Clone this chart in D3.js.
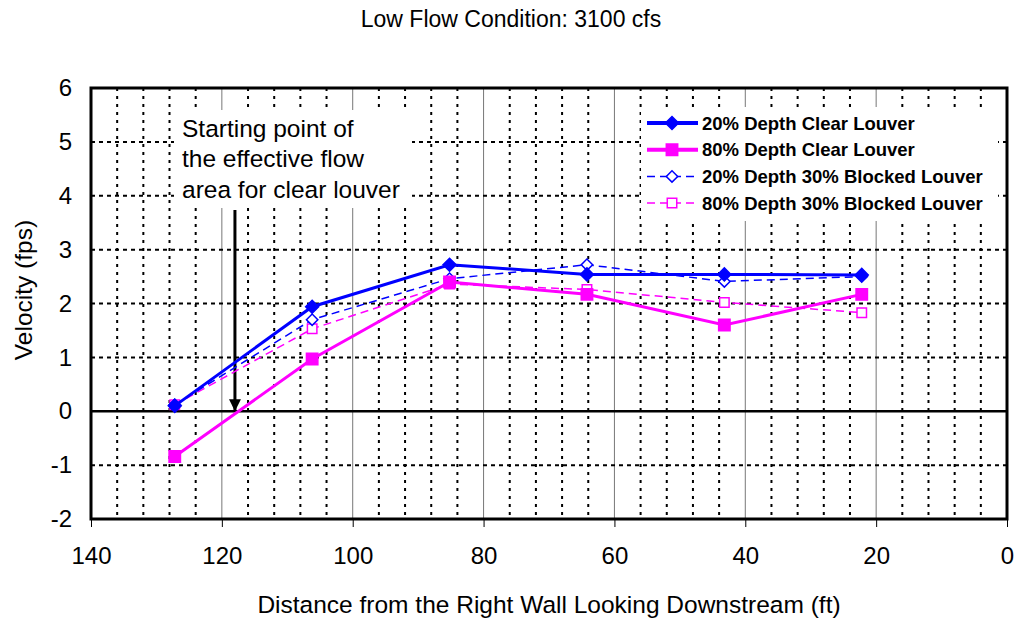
<!DOCTYPE html>
<meta charset="utf-8">
<script src="https://d3js.org/d3.v7.min.js"></script>
<style>
  body { margin: 0; background: #fff; }
  text { font-family: Arial, "Liberation Sans", sans-serif; }
</style>
<svg id="chart" width="1018" height="621"></svg>
<script>
// distance from right wall (ft)
var distance = [127.2, 106.2, 85.2, 64.2, 43.2, 22.2];
var clear20 = [0.10, 1.94, 2.72, 2.54, 2.54, 2.53];
var clear80 = [-0.84, 0.97, 2.40, 2.17, 1.60, 2.17];
var blocked20 = [0.12, 1.70, 2.46, 2.72, 2.41, 2.50];
var blocked80 = [0.12, 1.53, 2.36, 2.26, 2.02, 1.83];
var xTicks = [140, 120, 100, 80, 60, 40, 20, 0];
var yTicks = [-2, -1, 0, 1, 2, 3, 4, 5, 6];
var seriesNames = ["20% Depth Clear Louver", "80% Depth Clear Louver",
                   "20% Depth 30% Blocked Louver", "80% Depth 30% Blocked Louver"];
var annotation = ["Starting point of", "the effective flow", "area for clear louver"];
var startPoint = 118;

var svg = d3.select("#chart");
var pLeft = 91, pRight = 1007, pTop = 88, pBottom = 519;

var x = d3.scaleLinear().domain([140, 0]).range([pLeft, pRight]);
var y = d3.scaleLinear().domain([-2, 6]).range([pBottom, pTop]);

var blue = "#0000ff", magenta = "#ff00ff";
var fontFam = "Arial, 'Liberation Sans', sans-serif";

// title
svg.append("text").attr("x", 511).attr("y", 27).attr("text-anchor", "middle")
  .style("font-size", "23px").text("Low Flow Condition: 3100 cfs");

// minor vertical dotted grid every 4
var minorX = d3.range(136, 0, -4).filter(function(d){ return d % 20 != 0; });
svg.append("g").selectAll("line").data(minorX).enter().append("line")
  .attr("x1", function(d){ return x(d); }).attr("x2", function(d){ return x(d); })
  .attr("y1", pTop).attr("y2", pBottom)
  .style("stroke", "#000").style("stroke-width", 2).style("stroke-dasharray", "3,5");

// major vertical grid
svg.append("g").selectAll("line").data(xTicks.slice(1, -1)).enter().append("line")
  .attr("x1", function(d){ return x(d); }).attr("x2", function(d){ return x(d); })
  .attr("y1", pTop).attr("y2", pBottom)
  .style("stroke", "#777").style("stroke-width", 1);

// horizontal dotted grid
svg.append("g").selectAll("line").data(yTicks.slice(1, -1).filter(function(d){ return d != 0; })).enter().append("line")
  .attr("x1", pLeft).attr("x2", pRight)
  .attr("y1", function(d){ return y(d); }).attr("y2", function(d){ return y(d); })
  .style("stroke", "#000").style("stroke-width", 2).style("stroke-dasharray", "4,4");

// zero line
svg.append("line").attr("x1", pLeft).attr("x2", pRight).attr("y1", y(0)).attr("y2", y(0))
  .style("stroke", "#000").style("stroke-width", 2.5);

// plot frame
svg.append("rect").attr("x", pLeft).attr("y", pTop).attr("width", pRight - pLeft).attr("height", pBottom - pTop)
  .style("fill", "none").style("stroke", "#000").style("stroke-width", 3);

// axes
var xAxis = svg.append("g").attr("transform", "translate(0," + pBottom + ")")
  .call(d3.axisBottom(x).tickValues(xTicks).tickSize(8).tickSizeOuter(0).tickPadding(20)
    .tickFormat(function(d){ return String(d); }));
xAxis.select(".domain").remove();
xAxis.selectAll("text").style("font-size", "24px").style("font-family", fontFam).style("fill", "#000");

var yAxis = svg.append("g").attr("transform", "translate(" + pLeft + ",0)")
  .call(d3.axisLeft(y).tickValues(yTicks).tickSize(0).tickPadding(19)
    .tickFormat(function(d){ return String(d); }));
yAxis.select(".domain").remove();
yAxis.selectAll("text").style("font-size", "24px").style("font-family", fontFam).style("fill", "#000");

// axis titles
svg.append("text").attr("x", 549).attr("y", 613).attr("text-anchor", "middle")
  .style("font-size", "24.5px").text("Distance from the Right Wall Looking Downstream (ft)");
svg.append("text").attr("transform", "translate(32,290) rotate(-90)").attr("text-anchor", "middle")
  .style("font-size", "24.5px").text("Velocity (fps)");

// annotation box
svg.append("rect").attr("x", 174).attr("y", 110).attr("width", 238).attr("height", 98).style("fill", "#fff");
svg.append("g").selectAll("text").data(annotation).enter().append("text")
  .attr("x", 182).attr("y", function(d, i){ return 136.5 + i * 30.5; })
  .style("font-size", "24.5px").text(function(d){ return d; });

// arrow
svg.append("defs").append("marker").attr("id", "arrow").attr("viewBox", "0 0 10 10")
  .attr("refX", 10).attr("refY", 5).attr("markerWidth", 4).attr("markerHeight", 4)
  .attr("markerUnits", "strokeWidth").attr("orient", "auto")
  .append("path").attr("d", "M0,0 L10,5 L0,10 z").style("fill", "#000");
svg.append("line").attr("x1", x(startPoint)).attr("x2", x(startPoint))
  .attr("y1", 210).attr("y2", y(0)).style("stroke", "#000").style("stroke-width", 3)
  .attr("marker-end", "url(#arrow)");

// series
var series = [
  {vals: clear20, color: blue, width: 3, dash: null, shape: "diamond", fill: true, size: 85},
  {vals: clear80, color: magenta, width: 3, dash: null, shape: "square", fill: true, size: 130},
  {vals: blocked20, color: blue, width: 1.5, dash: "8,5", shape: "diamond", fill: false, size: 65},
  {vals: blocked80, color: magenta, width: 1.5, dash: "8,5", shape: "square", fill: false, size: 90}
];

function marker(sel, s) {
  sel.attr("d", d3.symbol().type(d3.symbolSquare).size(s.size))
    .style("fill", s.fill ? s.color : "#fff").style("stroke", s.color).style("stroke-width", 1.5);
}
function rot(s) { return s.shape == "diamond" ? " rotate(45)" : ""; }

var line = d3.line().x(function(d){ return x(d[0]); }).y(function(d){ return y(d[1]); });

series.slice().reverse().forEach(function(s){
  var pts = distance.map(function(d, i){ return [d, s.vals[i]]; });
  svg.append("path").datum(pts).attr("d", line)
    .style("fill", "none").style("stroke", s.color).style("stroke-width", s.width)
    .style("stroke-dasharray", s.dash);
  svg.append("g").selectAll("path").data(pts).enter().append("path")
    .attr("transform", function(d){ return "translate(" + x(d[0]) + "," + y(d[1]) + ")" + rot(s); })
    .call(marker, s);
});

// legend
var lg = svg.append("g");
lg.append("rect").attr("x", 641).attr("y", 107).attr("width", 357).attr("height", 114).style("fill", "#fff");
series.forEach(function(s, i){
  var ly = 123 + i * 26.7;
  lg.append("line").attr("x1", 647).attr("x2", 698).attr("y1", ly).attr("y2", ly)
    .style("stroke", s.color).style("stroke-width", s.fill ? 4 : 1.5).style("stroke-dasharray", s.dash);
  lg.append("path").attr("transform", "translate(672," + ly + ")" + rot(s)).call(marker, s);
  lg.append("text").attr("x", 702).attr("y", ly + 6.5).style("font-size", "18.5px").style("font-weight", "bold")
    .text(seriesNames[i]);
});
</script>
